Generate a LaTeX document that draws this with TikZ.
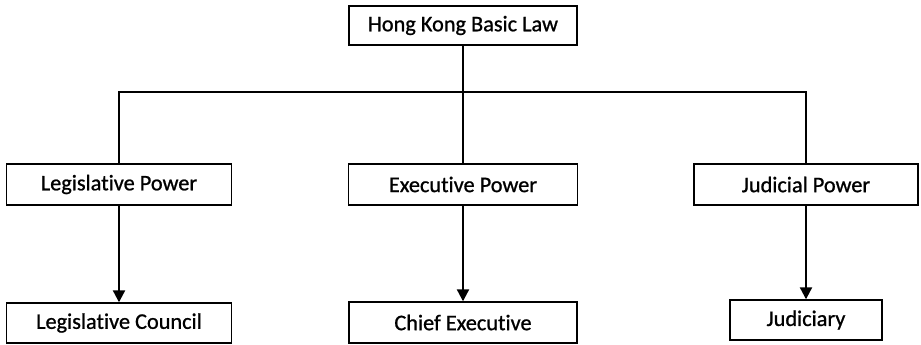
\documentclass[tikz,border=0pt]{standalone}
\usepackage{fontspec}
\setmainfont{Carlito}[Ligatures={NoCommon}, FakeBold=0.9]
\usetikzlibrary{arrows.meta}
\begin{document}
\begin{tikzpicture}[x=1pt,y=-1pt,
  orgbox/.style={draw=black, line width=1.4pt, fill=white, inner sep=0pt,
    font=\fontsize{22.3}{26}\selectfont, text=black},
  link/.style={draw=black, line width=1.4pt},
  feed/.style={draw=black, line width=2.2pt, -{Triangle[width=12pt,length=12pt]}}]
  \useasboundingbox (0,0) rectangle (921,345);
  % apex
  \node[orgbox, minimum width=228pt, minimum height=39pt] (law) at (463,25.5) {Hong Kong Basic Law};
  % powers
  \node[orgbox, minimum width=225pt, minimum height=41pt] (leg) at (119,184.5) {Legislative Power};
  \node[orgbox, minimum width=229pt, minimum height=41pt] (exe) at (463,184.5) {Executive Power};
  \node[orgbox, minimum width=224pt, minimum height=41pt] (jud) at (806,184.5) {Judicial Power};
  % institutions
  \node[orgbox, minimum width=225pt, minimum height=40pt] (legc) at (119,323) {Legislative Council};
  \node[orgbox, minimum width=228pt, minimum height=41pt] (chief) at (463,322.5) {Chief Executive};
  \node[orgbox, minimum width=152pt, minimum height=40pt] (judi) at (806,320) {Judiciary};
  % branching from the Basic Law
  \coordinate (bar) at (463,92);
  \draw[link] (law.south) -- (exe.north);
  \draw[link] (leg.north) |- (bar) -| (jud.north);
  % powers to institutions
  \draw[feed] (leg.south) -- (legc.north);
  \draw[feed] (exe.south) -- (chief.north);
  \draw[feed] (jud.south) -- (judi.north);
\end{tikzpicture}
\end{document}
